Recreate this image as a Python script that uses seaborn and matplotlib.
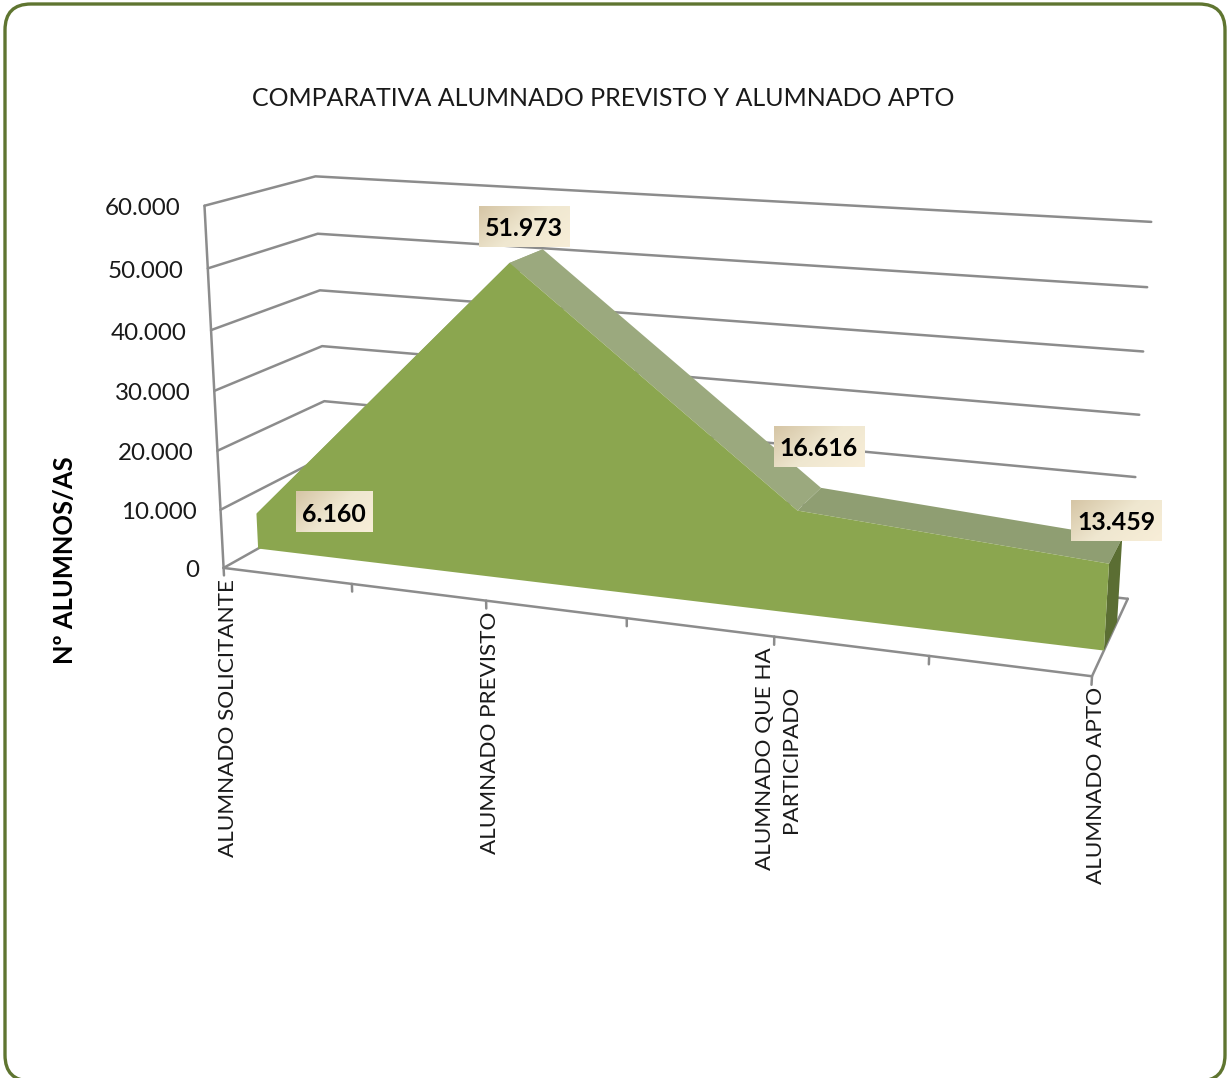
import numpy as np
import pandas as pd
import matplotlib
matplotlib.use('Agg')
import matplotlib.pyplot as plt
import seaborn as sns
from matplotlib.colors import LinearSegmentedColormap
from matplotlib.patches import FancyBboxPatch

categories = ['ALUMNADO SOLICITANTE', 'ALUMNADO PREVISTO', 'ALUMNADO QUE HA\nPARTICIPADO', 'ALUMNADO APTO']
values = [6160, 51973, 16616, 13459]
y_ticks = [0, 10000, 20000, 30000, 40000, 50000, 60000]
title = 'COMPARATIVA ALUMNADO PREVISTO Y ALUMNADO APTO'
y_label = 'Nº ALUMNOS/AS'

# box corners (category, value, depth) and where they land in the picture
box_corners = [(0, 0, 0), (0, 60000, 0), (0, 0, 1), (0, 60000, 1), (3, 0, 1), (3, 60000, 1), (3, 0, 0)]
box_pixels = [(225, 567), (203, 206), (327, 510), (317, 176), (1128, 598), (1151, 222), (1092, 677)]
area_front = 0.31
area_back = 0.68
label_centers = [(334, 512), (524, 227), (819, 447), (1116, 521)]

GRID = '#8c8c8c'
GREEN = '#8ba64f'


def fit_camera():
    rows = []
    for (x, v, z), (px, py) in zip(box_corners, box_pixels):
        w = [x, v / 10000, z, 1]
        rows.append(w + [0, 0, 0, 0] + [-px * c for c in w])
        rows.append([0, 0, 0, 0] + w + [-py * c for c in w])
    return np.linalg.svd(np.array(rows, dtype=float))[2][-1].reshape(3, 4)


cam = fit_camera()


def project(x, v, z):
    p = cam @ np.array([x, v / 10000, z, 1.0])
    return p[0] / p[2], p[1] / p[2]


sns.set_theme(style='white')
plt.rcParams['font.family'] = ['Lato', 'DejaVu Sans']

fig = plt.figure(figsize=(12.29, 10.78), dpi=100)
ax = fig.add_axes([0, 0, 1, 1])

# frame, its bottom edge runs just off the picture
ax.add_patch(FancyBboxPatch((31, 30), 1168, 1025, boxstyle='round,pad=26,rounding_size=26',
                            fc='white', ec='#5f7530', lw=2.4, zorder=0))

# walls and floor as one tidy table of line segments
segments = []
for v in y_ticks:
    segments.append([(0, v, 0), (0, v, 1), (3, v, 1)])
segments.append([(0, 0, 0), (0, 60000, 0)])
segments.append([(0, 0, 0), (3, 0, 0), (3, 0, 1)])
for t in np.arange(0, 3.01, 0.5):
    segments.append([(t, 0, 0), (t, -1300, 0)])
rows = []
for i, seg in enumerate(segments):
    for x, v, z in seg:
        px, py = project(x, v, z)
        rows.append({'line': i, 'px': px, 'py': py})
grid = pd.DataFrame(rows)
sns.lineplot(data=grid, x='px', y='py', units='line', estimator=None, sort=False,
             color=GRID, lw=1.8, legend=False, ax=ax, zorder=1)

# area: top faces, side, then front
tops = ['#9ba97e', '#9ba97e', '#8f9e72']
for i in range(len(values) - 1):
    face = [project(i, values[i], area_front), project(i + 1, values[i + 1], area_front),
            project(i + 1, values[i + 1], area_back), project(i, values[i], area_back)]
    ax.fill(*zip(*face), color=tops[i], lw=0, zorder=2)
side = [project(3, 0, area_front), project(3, values[3], area_front),
        project(3, values[3], area_back), project(3, 0, area_back)]
ax.fill(*zip(*side), color='#5b6e33', lw=0, zorder=2)
front = [project(0, 0, area_front)] + [project(i, v, area_front) for i, v in enumerate(values)] + [project(3, 0, area_front)]
ax.fill(*zip(*front), color=GREEN, lw=0, zorder=3)

# value labels on gradient boxes
cream = LinearSegmentedColormap.from_list('cream', ['#d6c6a6', '#efe7d0', '#f8eed8'])
xx, yy = np.meshgrid(np.linspace(0, 1, 40), np.linspace(0, 1, 20))
shade = 0.65 * xx + 0.35 * yy
for v, (cx, cy) in zip(values, label_centers):
    text = f'{v:,}'.replace(',', '.')
    half = 38.5 if v < 10000 else 45.5
    ax.imshow(shade, cmap=cream, extent=(cx - half, cx + half, cy + 20.5, cy - 20.5),
              aspect='auto', zorder=4, interpolation='bilinear')
    ax.text(cx, cy + 2, text, ha='center', va='center', fontsize=17.9, fontweight='bold', color='black', zorder=5)

# axis text
for v in y_ticks:
    px, py = project(0, v, 0)
    ax.text(px - 24, py + 3, f'{v:,}'.replace(',', '.'), ha='right', va='center', fontsize=17.4, color='#1a1a1a')
for i, cat in enumerate(categories):
    px, py = project(i, 0, 0)
    ax.text(px + 4, py + 11, cat, rotation=90, ha='center', va='top', multialignment='center',
            fontsize=16.2, color='#1a1a1a', linespacing=1.4)

ax.text(603, 99, title, ha='center', va='center', fontsize=18, color='#1a1a1a')
ax.text(65, 560, y_label, rotation=90, ha='center', va='center', fontsize=18.4, fontweight='bold', color='black')

ax.set_xlim(0, 1229)
ax.set_ylim(1078, 0)
ax.axis('off')
fig.savefig('out.png', dpi=100, facecolor='white')
